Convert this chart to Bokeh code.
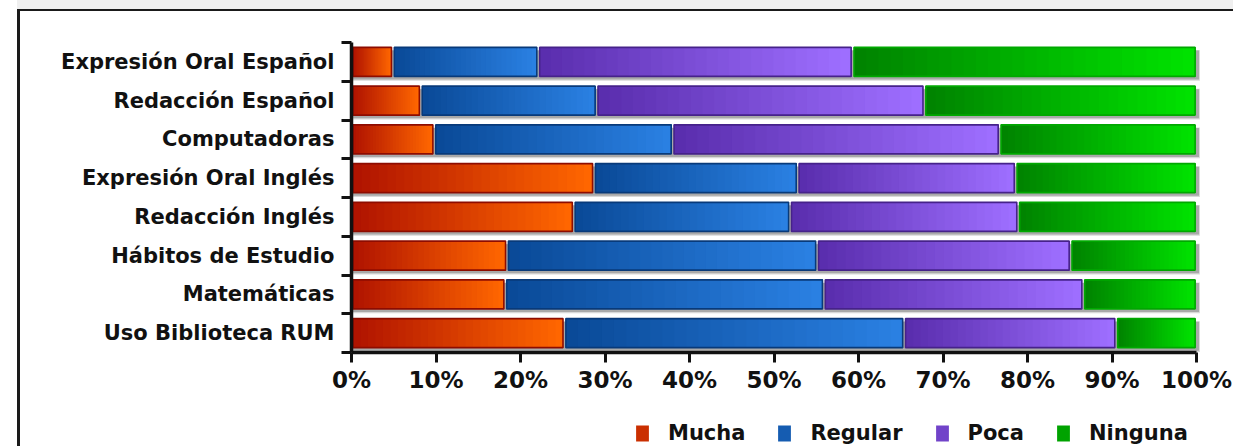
import numpy as np
from bokeh.plotting import figure
from bokeh.models import ColumnDataSource, FixedTicker, PrintfTickFormatter, Legend, LegendItem, Range1d
from bokeh.embed import file_html
from bokeh.resources import INLINE

# ---- data (top to bottom) ----
categories = ["Expresión Oral Español", "Redacción Español", "Computadoras",
              "Expresión Oral Inglés", "Redacción Inglés", "Hábitos de Estudio",
              "Matemáticas", "Uso Biblioteca RUM"]
mucha = [4.9, 8.2, 9.8, 28.7, 26.3, 18.4, 18.2, 25.2]
regular = [17.2, 20.8, 28.2, 24.1, 25.6, 36.7, 37.7, 40.2]
poca = [37.2, 38.8, 38.7, 25.8, 27.0, 30.0, 30.7, 25.1]
ninguna = [40.7, 32.2, 23.3, 21.4, 21.1, 14.9, 13.4, 9.5]
series_names = ["Mucha", "Regular", "Poca", "Ninguna"]
x_ticks = [0, 10, 20, 30, 40, 50, 60, 70, 80, 90, 100]

# ---- styles ----
FONT = "DejaVu Sans"
grad = {
    "Mucha": ("#b01400", "#ff6600", "#8e0c00"),
    "Regular": ("#0a4a98", "#2a80e2", "#083a7a"),
    "Poca": ("#5a2eae", "#9e6eff", "#46228a"),
    "Ninguna": ("#008400", "#00e200", "#00a800"),
}
BAR_H = 0.75
GAP = 0.17
NSL = 28

# canvas geometry (px)
CW, CH = 1213, 435
PX_X = 8.45      # px per percent
PX_Y = 38.75     # px per category band
X0_PX = 331      # x=0 from canvas left
Y8_PX = 31       # top of category axis from canvas top


def hex2rgb(h):
    h = h.lstrip("#")
    return np.array([int(h[i:i + 2], 16) for i in (0, 2, 4)], dtype=float)


def mix(c1, c2, t):
    a, b = hex2rgb(c1), hex2rgb(c2)
    c = a + (b - a) * t
    return "#%02x%02x%02x" % tuple(int(round(v)) for v in c)


n = len(categories)
ys = np.array([n - 1 - i + 0.5 for i in range(n)])

x_lo = -X0_PX / PX_X
x_hi = (CW - X0_PX) / PX_X
y_hi = n + Y8_PX / PX_Y
y_lo = n - (CH - Y8_PX) / PX_Y

p = figure(frame_width=CW, frame_height=CH, output_backend="svg", toolbar_location=None,
           x_range=Range1d(x_lo, x_hi), y_range=Range1d(y_lo, y_hi),
           min_border_left=0, min_border_right=0, min_border_top=0, min_border_bottom=0)
p.styles = {"transform": "translate(17px, 9px)",
            "border-top": "2px solid #1a1a1a", "border-left": "3px solid #1a1a1a",
            "box-shadow": "0 -9px 0 0 #efefef"}
p.background_fill_color = "white"
p.border_fill_color = "white"
p.outline_line_color = None
p.xgrid.visible = False
p.ygrid.visible = False

# shadows
p.hbar(y=ys - 0.09, left=0, right=100.4, height=BAR_H + 0.04, fill_color="#b4b4b4", line_color=None, fill_alpha=0.5)
p.hbar(y=ys - 0.08, left=0, right=100.3, height=BAR_H, fill_color="#9c9c9c", line_color=None, fill_alpha=0.8)

values = [mucha, regular, poca, ninguna]
lefts = np.zeros(n)
legend_items = []
for name, vals in zip(series_names, values):
    vals = np.array(vals, dtype=float)
    rights = lefts + vals
    c0, c1, cb = grad[name]
    sl, sr, sy, sc = [], [], [], []
    for i in range(n):
        L = lefts[i] + GAP
        R = rights[i] - GAP
        for k in range(NSL):
            sl.append(L + (R - L) * k / NSL)
            sr.append(R)
            sy.append(ys[i])
            sc.append(mix(c0, c1, k / (NSL - 1)))
    src = ColumnDataSource(dict(left=sl, right=sr, y=sy, color=sc))
    r = p.hbar(y="y", left="left", right="right", height=BAR_H, fill_color="color", line_color=None, source=src)
    p.hbar(y=ys, left=lefts + GAP, right=rights - GAP, height=BAR_H, fill_color=None,
           line_color=cb, line_width=1.6)
    legend_items.append(LegendItem(label=name, renderers=[r], index=NSL // 3))
    lefts = rights

# axes
xa = p.xaxis[0]
xa.fixed_location = 0
xa.bounds = (0, 100)
xa.ticker = FixedTicker(ticks=x_ticks)
xa.formatter = PrintfTickFormatter(format="%d%%")
xa.axis_line_width = 3.5
xa.axis_line_color = "#111111"
xa.major_tick_line_width = 3
xa.major_tick_line_color = "#111111"
xa.major_tick_out = 10
xa.major_tick_in = 0
xa.minor_tick_line_color = None
xa.major_label_standoff = 4
xa.major_label_text_font = FONT
xa.major_label_text_font_size = "23px"
xa.major_label_text_font_style = "bold"
xa.major_label_text_color = "#111111"

ya = p.yaxis[0]
ya.fixed_location = 0
ya.bounds = (0, n)
ya.ticker = FixedTicker(ticks=list(ys), minor_ticks=list(range(n + 1)))
ya.major_label_overrides = {float(y): c for y, c in zip(ys, categories)}
ya.axis_line_width = 3.5
ya.axis_line_color = "#111111"
ya.major_tick_out = 0
ya.major_tick_in = 0
ya.minor_tick_out = 10
ya.minor_tick_in = 0
ya.minor_tick_line_width = 3
ya.minor_tick_line_color = "#111111"
ya.major_label_standoff = 7
ya.major_label_text_font = FONT
ya.major_label_text_font_size = "21px"
ya.major_label_text_font_style = "bold"
ya.major_label_text_color = "#111111"

legend = Legend(items=legend_items, orientation="horizontal", location=(614, 1),
                label_text_font=FONT, label_text_font_size="21px", label_text_font_style="bold",
                label_text_color="#111111", glyph_width=16, glyph_height=20, label_standoff=18,
                spacing=31, padding=0, margin=0, border_line_color=None, background_fill_alpha=0)
p.add_layout(legend)

open("out.html", "w").write(file_html(p, INLINE))
